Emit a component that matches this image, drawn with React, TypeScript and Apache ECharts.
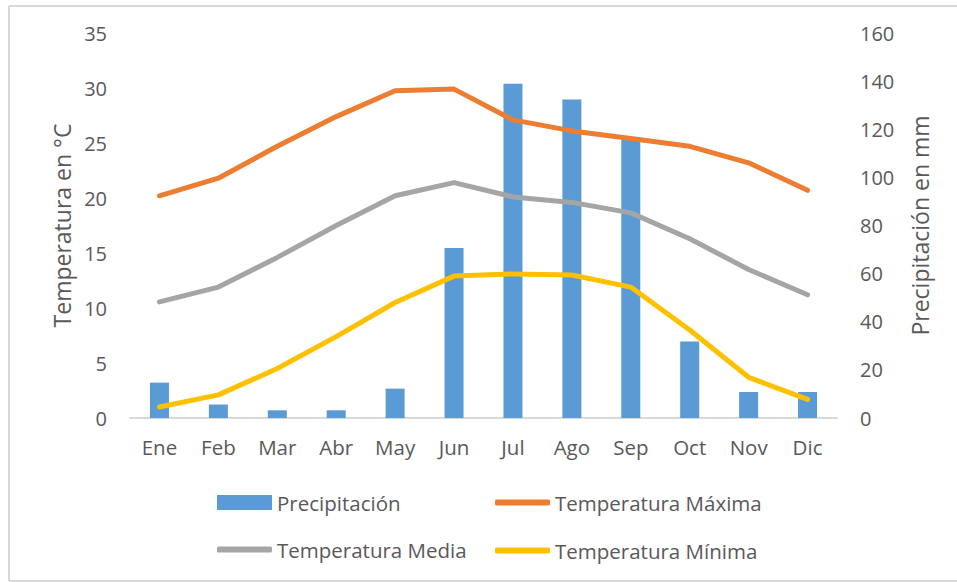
import React, { useEffect, useRef } from "react";
import * as echarts from "echarts";

const months = ["Ene", "Feb", "Mar", "Abr", "May", "Jun", "Jul", "Ago", "Sep", "Oct", "Nov", "Dic"];
const precipitacion = [14.7, 5.6, 3.2, 3.2, 12.2, 70.7, 138.9, 132.4, 115.5, 31.8, 10.8, 10.8];
const tempMaxima = [20.2, 21.8, 24.7, 27.4, 29.75, 29.9, 27.1, 26.1, 25.4, 24.7, 23.2, 20.7];
const tempMedia = [10.55, 11.9, 14.6, 17.5, 20.2, 21.4, 20.1, 19.6, 18.65, 16.3, 13.5, 11.2];
const tempMinima = [1.0, 2.1, 4.5, 7.4, 10.5, 12.9, 13.1, 13.0, 11.9, 8.0, 3.7, 1.7];

const FONT = "Open Sans";
const TXT = "#595959";

export default function App() {
  const ref = useRef<HTMLDivElement>(null);
  useEffect(() => {
    document.body.style.margin = "0";
    const chart = echarts.init(ref.current!, null, { renderer: "svg" });
    const lineSeries = (name: string, data: number[], color: string) => ({
      name,
      type: "line",
      yAxisIndex: 0,
      data,
      symbol: "none",
      z: 3,
      lineStyle: { color, width: 5, cap: "round", join: "round" },
      itemStyle: { color },
    });
    const legendBase = {
      orient: "vertical",
      padding: 0,
      itemWidth: 55,
      itemGap: 27,
      textStyle: { color: TXT, fontSize: 20.5, fontFamily: FONT },
    };
    chart.setOption({
      animation: false,
      textStyle: { fontFamily: FONT },
      grid: { left: 130, right: 120, top: 33, bottom: 164 },
      xAxis: {
        type: "category",
        data: months,
        axisLine: { show: true, lineStyle: { color: "#d9d9d9", width: 2 } },
        axisTick: { show: false },
        axisLabel: { color: TXT, fontSize: 20.5, margin: 18, fontFamily: FONT },
      },
      yAxis: [
        {
          type: "value",
          min: 0,
          max: 35,
          interval: 5,
          name: "Temperatura en °C",
          nameLocation: "middle",
          nameRotate: 90,
          nameGap: 55,
          nameTextStyle: { color: TXT, fontSize: 23, fontFamily: FONT },
          axisLine: { show: false },
          axisTick: { show: false },
          splitLine: { show: false },
          axisLabel: { color: TXT, fontSize: 20, margin: 23, fontFamily: FONT },
        },
        {
          type: "value",
          min: 0,
          max: 160,
          interval: 20,
          position: "right",
          name: "Precipitación en mm",
          nameLocation: "middle",
          nameRotate: 90,
          nameGap: 71,
          nameTextStyle: { color: TXT, fontSize: 23, fontFamily: FONT },
          axisLine: { show: false },
          axisTick: { show: false },
          splitLine: { show: false },
          axisLabel: { color: TXT, fontSize: 20, margin: 23, fontFamily: FONT },
        },
      ],
      legend: [
        {
          ...legendBase,
          left: 217,
          top: 492,
          itemHeight: 15,
          data: [{ name: "Precipitación", icon: "rect" }],
        },
        {
          ...legendBase,
          left: 217,
          top: 539,
          itemHeight: 6,
          data: [{ name: "Temperatura Media", icon: "roundRect" }],
        },
        {
          ...legendBase,
          left: 495,
          top: 492,
          itemHeight: 6,
          data: [
            { name: "Temperatura Máxima", icon: "roundRect" },
            { name: "Temperatura Mínima", icon: "roundRect" },
          ],
        },
      ],
      graphic: [
        { type: "line", shape: { x1: 9, y1: 6, x2: 957, y2: 6 }, style: { stroke: "#d9d9d9", lineWidth: 2 }, silent: true },
        { type: "line", shape: { x1: 9, y1: 6, x2: 9, y2: 581 }, style: { stroke: "#d9d9d9", lineWidth: 2 }, silent: true },
        { type: "line", shape: { x1: 9, y1: 581, x2: 957, y2: 581 }, style: { stroke: "#d9d9d9", lineWidth: 2 }, silent: true },
      ],
      series: [
        {
          name: "Precipitación",
          type: "bar",
          yAxisIndex: 1,
          data: precipitacion,
          barWidth: 19,
          z: 2,
          itemStyle: { color: "#5B9BD5" },
        },
        lineSeries("Temperatura Máxima", tempMaxima, "#ED7D31"),
        lineSeries("Temperatura Media", tempMedia, "#A5A5A5"),
        lineSeries("Temperatura Mínima", tempMinima, "#FFC000"),
      ],
    });
    return () => chart.dispose();
  }, []);
  return <div ref={ref} style={{ width: 957, height: 582 }} />;
}
